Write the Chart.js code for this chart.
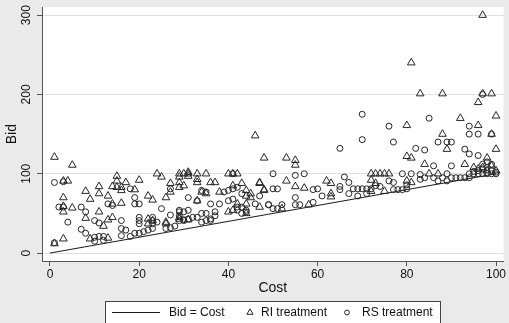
<!DOCTYPE html>
<html><head><meta charset="utf-8">
<script src="https://cdn.jsdelivr.net/npm/chart.js@4.4.0/dist/chart.umd.min.js"></script>
<style>html,body{margin:0;padding:0;background:#eaeaea;overflow:hidden}#wrap{width:509px;height:323px}</style>
</head><body><div id="wrap"><canvas id="c" width="509" height="323"></canvas></div>
<script>
// ---- data ----
const seriesNames = ['Bid = Cost', 'RI treatment', 'RS treatment'];
const lineCost = [0, 100];
const lineBid = [0, 100];
const riCost = [1,5,3,4,3,3,3,5,3,1, 8,8,9,11,11,11,13,13,14,13,9,12, 15,14,15,16,15,16,17,20,14,16,
  19,22,23,24,25,26,27,27,22,23,26,26,22, 29,29,29,30,29,31,31,30,31,33,35, 33,33,36,37,34,35,38, 29,31,29,
  40,41,42,43,41,44,45,45,44,47,48,40,41,42,44,44,47, 46,48,33,
  97,81,83,88,97,99,96,92,100,80,96,88,99,89,100,80,81,
  53,55,55,84,98,93,95,96,97,99,100,98,
  72,73,74,75,76,72,73,53,62,55,57,48,47,63,63,63,58,52,85,87,80,81,72,75];
const riBid = [121,111,91,91,70,59,52,57,18,12, 78,44,68,84,75,52,72,42,45,19,18,34, 97,84,83,83,91,79,89,92,62,63,
  80,72,67,100,96,70,77,88,43,41,39,37,37, 100,96,89,85,83,97,102,100,100,100,100, 93,89,89,89,77,75,77, 43,42,45,
  100,100,100,88,85,79,75,70,72,89,79,52,54,62,62,50,58, 148,120,66,
  300,240,201,201,201,201,190,170,173,161,161,150,150,131,131,122,120,
  120,117,111,112,120,112,108,106,108,110,104,104,
  100,100,100,100,100,92,88,91,91,84,82,80,88,88,75,71,61,56,100,100,91,89,78,78];
const rsCost = [1,3,2,3,4,1,7,8,7,8,10,11,10,11,12,10,12,
  14,13,16,16,17,16,18,19,19,20, 18,19,20,21,22,23,20,20,20,23,23,23,24,
  25,26,27,28,27,27,29,29,30,31, 29,29,30,31,32,33,34,35,36,36,37,37,34,35,
  31,34,35,36,38,39,40,41,42,43,40,41,42,42,43,44,43,44,46,47,41,49,33,30,
  70,85,76,70,77,65,82,84,87,89,90,94,94,96,93,94,96,97,99,
  50,57,55,50,51,49,50,51,52,55,55,56,59,60,59,61,65,65,66,67,67,68,69,70,71,72,69,71,73,74,76,77,77,78,79,80,80,79,81,83,83,84,86,86,87,88,89,89,90,90,91,92,93,94,
  95,96,97,98,99,100,96,97,98,99,99,97,98,100,95,94];
const rsBid = [89,90,58,58,39,13,58,52,30,25,41,38,20,21,21,15,16,
  60,62,41,31,29,22,81,70,62,62, 21,25,25,27,29,31,45,41,37,45,41,37,39,
  56,31,32,34,81,48,52,54,52,54, 47,41,41,43,45,45,39,41,43,41,47,52,50,50,
  70,79,77,62,62,77,79,81,83,75,66,68,58,54,50,52,58,54,62,72,100,61,66,42,
  175,170,160,143,140,132,132,130,140,140,140,160,150,150,131,125,123,200,150,
  100,100,98,81,81,61,56,56,61,70,61,61,80,81,64,72,84,80,96,89,75,81,81,81,81,81,72,75,85,84,91,89,80,80,80,81,86,100,100,99,93,95,110,95,91,95,91,100,110,95,95,95,95,95,
  100,100,100,100,100,100,104,106,108,112,104,112,115,102,103,100];
const xTicks = [0, 20, 40, 60, 80, 100];
const yTicks = [0, 100, 200, 300];

const pts = (xs, ys) => xs.map((x, i) => ({x: x, y: ys[i]}));
const FONT = '"Liberation Sans", Arial, Helvetica, sans-serif';
const INK = '#111111';
const MARK = '#262626';
const AXIS = '#555555';

const bgPlugin = {
  id: 'bg',
  beforeDraw(chart) {
    const {ctx, chartArea: a} = chart;
    ctx.save();
    ctx.fillStyle = '#eaeaea';
    ctx.fillRect(0, 0, chart.width, chart.height);
    ctx.fillStyle = '#ffffff';
    ctx.fillRect(a.left, a.top, a.right - a.left, a.bottom - a.top);
    ctx.restore();
  }
};

const legendPlugin = {
  id: 'stataLegend',
  afterDraw(chart) {
    const ctx = chart.ctx;
    const ds = chart.data.datasets;
    ctx.save();
    ctx.fillStyle = '#ffffff';
    ctx.fillRect(105.5, 301.5, 335, 30);
    ctx.strokeStyle = '#444';
    ctx.lineWidth = 1;
    ctx.strokeRect(105.5, 301.5, 335, 30);
    const cy = 312.5;
    ctx.font = 'normal 12px ' + FONT;
    ctx.fillStyle = INK;
    ctx.textBaseline = 'middle';
    ctx.textAlign = 'left';
    ctx.strokeStyle = '#1a1a1a';
    ctx.beginPath(); ctx.moveTo(112, cy); ctx.lineTo(160, cy); ctx.stroke();
    ctx.fillText(ds[0].label, 169, cy);
    ctx.strokeStyle = MARK;
    const tx = 250, r = 3.6;
    ctx.beginPath();
    ctx.moveTo(tx, cy - r);
    ctx.lineTo(tx + r * 0.866, cy + r * 0.5);
    ctx.lineTo(tx - r * 0.866, cy + r * 0.5);
    ctx.closePath(); ctx.stroke();
    ctx.fillText(ds[1].label, 261, cy);
    ctx.beginPath(); ctx.arc(347, cy, 2.4, 0, Math.PI * 2); ctx.stroke();
    ctx.fillText(ds[2].label, 362, cy);
    ctx.restore();
  }
};

new Chart(document.getElementById('c'), {
  data: {
    datasets: [
      {type: 'line', label: seriesNames[0], data: pts(lineCost, lineBid), borderColor: '#1a1a1a', borderWidth: 1, pointRadius: 0, fill: false, order: 3},
      {type: 'scatter', label: seriesNames[1], data: pts(riCost, riBid), pointStyle: 'triangle', pointRadius: 4.4, borderColor: MARK, backgroundColor: 'rgba(0,0,0,0)', borderWidth: 1, order: 2},
      {type: 'scatter', label: seriesNames[2], data: pts(rsCost, rsBid), pointStyle: 'circle', pointRadius: 3, borderColor: MARK, backgroundColor: 'rgba(0,0,0,0)', borderWidth: 1, order: 1}
    ]
  },
  options: {
    responsive: false,
    devicePixelRatio: 1,
    animation: false,
    layout: {padding: {top: 5, right: 4, left: 0, bottom: 0}},
    plugins: {legend: {display: false}, tooltip: {enabled: false}},
    scales: {
      x: {
        type: 'linear', position: 'bottom', min: -1.79, max: 101.7,
        afterBuildTicks: s => { s.ticks = xTicks.map(v => ({value: v})); },
        afterFit: s => { s.height = 62; },
        ticks: {font: {family: FONT, size: 12, weight: 'normal'}, color: INK, padding: 1, maxRotation: 0, autoSkip: false},
        grid: {drawOnChartArea: false, tickLength: 5, tickColor: AXIS, lineWidth: 1},
        border: {color: AXIS, width: 1},
        title: {display: true, text: 'Cost', font: {family: FONT, size: 14, weight: 'normal'}, color: INK, padding: {top: 0, bottom: 26.6}}
      },
      y: {
        type: 'linear', position: 'left', min: -10, max: 310,
        afterBuildTicks: s => { s.ticks = yTicks.map(v => ({value: v})); },
        afterFit: s => { s.width = 42; },
        ticks: {font: {family: FONT, size: 12, weight: 'normal'}, color: INK, padding: 0, minRotation: 90, maxRotation: 90, crossAlign: 'center', autoSkip: false},
        grid: {color: '#e0e0e0', tickLength: 5, tickColor: AXIS, lineWidth: 1},
        border: {color: AXIS, width: 1},
        title: {display: true, text: 'Bid', font: {family: FONT, size: 14, weight: 'normal'}, color: INK, padding: {top: 3.3, bottom: 0}}
      }
    }
  },
  plugins: [bgPlugin, legendPlugin]
});
</script></body></html>
